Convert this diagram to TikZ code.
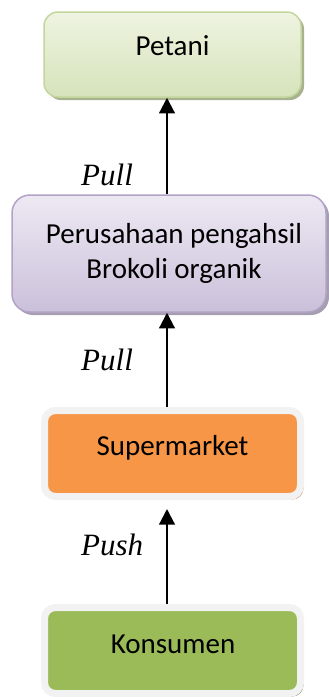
\documentclass[tikz,border=0pt]{standalone}
\usepackage{fontspec}
\setmainfont{Carlito}
\newfontfamily\timesit{Liberation Serif}
\usetikzlibrary{arrows.meta,shadows}
\definecolor{petTop}{HTML}{EEF4E1}
\definecolor{petBot}{HTML}{D6E3BB}
\definecolor{petLine}{HTML}{C3D69B}
\definecolor{petShadow}{HTML}{A8B290}
\definecolor{perTop}{HTML}{EDE9F3}
\definecolor{perBot}{HTML}{CBC0DA}
\definecolor{perLine}{HTML}{B3A2C7}
\definecolor{perShadow}{HTML}{A59EAE}
\definecolor{supFill}{HTML}{F79646}
\definecolor{supShadow}{HTML}{D4A685}
\definecolor{konFill}{HTML}{9BBB59}
\definecolor{konShadow}{HTML}{9CA78A}
\definecolor{frame}{HTML}{F2F2F2}
\tikzset{
  boxbase/.style={rectangle, inner sep=0pt, anchor=center},
  gradbox/.style={boxbase, line width=1.5pt},
  framebox/.style={boxbase, draw=frame, line width=7pt, rounded corners=11pt,
    minimum width=256pt, minimum height=86pt},
  boxtext/.style={font=\fontsize{29}{35}\selectfont, anchor=base, inner sep=0pt, align=center},
  flowlabel/.style={font=\timesit\itshape\fontsize{31}{36}\selectfont, anchor=base west, inner sep=0pt},
  arr/.style={line width=2.2pt, -{Triangle[width=15.5pt,length=15.5pt]}},
}
\begin{document}
\begin{tikzpicture}[x=1pt,y=-1pt]
\useasboundingbox[fill=white] (0,0) rectangle (329,697);
% boxes
\node[gradbox, draw=petLine, top color=petTop, bottom color=petBot, rounded corners=14pt,
  minimum width=257pt, minimum height=85pt,
  drop shadow={shadow xshift=3pt, shadow yshift=-3pt, fill=petShadow, opacity=1}]
  (pet) at (172.5,54.5) {};
\node[gradbox, draw=perLine, top color=perTop, bottom color=perBot, rounded corners=18pt,
  minimum width=314pt, minimum height=117pt,
  drop shadow={shadow xshift=3pt, shadow yshift=-3pt, fill=perShadow, opacity=1}]
  (per) at (169,253.5) {};
\node[framebox, fill=supFill,
  drop shadow={shadow xshift=3pt, shadow yshift=-3pt, fill=supShadow, opacity=1}]
  (sup) at (172.5,453.5) {};
\node[framebox, fill=konFill,
  drop shadow={shadow xshift=3pt, shadow yshift=-3pt, fill=konShadow, opacity=1}]
  (kon) at (172.5,650.5) {};
% texts
\node[boxtext] (tpet) at (172.5,55) {Petani};
\node[boxtext] (tper1) at (174,243) {Perusahaan pengahsil};
\node[boxtext] (tper2) at (174,278) {Brokoli organik};
\node[boxtext] (tsup) at (172.5,455) {Supermarket};
\node[boxtext] (tkon) at (173,653) {Konsumen};
% arrows
\coordinate (xa) at (167,0);
\coordinate (tip3) at (167,509);
\draw[arr] (per.north -| xa) -- (pet.south -| xa);
\draw[arr] (sup.north -| xa) -- (per.south -| xa);
\draw[arr] (kon.north -| xa) -- (tip3);
% labels
\node[flowlabel] (l1) at (81,185) {Pull};
\node[flowlabel] (l2) at (81,370) {Pull};
\node[flowlabel] (l3) at (81,555) {Push};
\end{tikzpicture}
\end{document}
